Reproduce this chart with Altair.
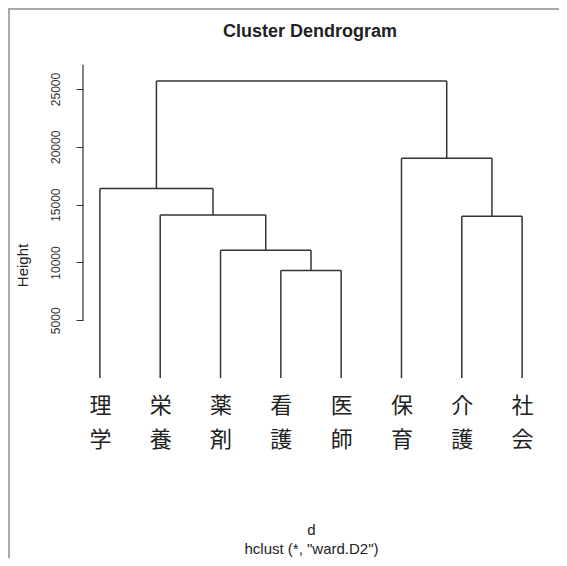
import json
import altair as alt
import pandas as pd

# ---- data ----
leaves = ["理学", "栄養", "薬剤", "看護", "医師", "保育", "介護", "社会"]
# R-style merge table: negative = leaf index (1-based), positive = earlier merge
merge_left = [-4, -3, -7, -2, -1, -6, 5]
merge_right = [-5, 1, -8, 2, 4, 3, 6]
merge_height = [9300, 11050, 14000, 14100, 16400, 19000, 25700]
y_ticks = [5000, 10000, 15000, 20000, 25000]
main_title = "Cluster Dendrogram"

# ---- build segments ----
mx, mh = [], []
rows = []


def pos(c):
    if c < 0:
        return float(-c), 0.0
    return mx[c - 1], mh[c - 1]


for a, b, h in zip(merge_left, merge_right, merge_height):
    xa, ha = pos(a)
    xb, hb = pos(b)
    rows.append(dict(x=xa, x2=xb, y=h, y2=h))
    rows.append(dict(x=xa, x2=xa, y=ha, y2=h))
    rows.append(dict(x=xb, x2=xb, y=hb, y2=h))
    mx.append((xa + xb) / 2)
    mh.append(h)

seg = pd.DataFrame(rows)

n = len(leaves)
xpad = (n - 1) * 0.04
ymax = max(merge_height)
ypad = ymax * 0.04
xscale = alt.Scale(domain=[1 - xpad, n + xpad], nice=False, zero=False)
yscale = alt.Scale(domain=[-ypad, ymax + ypad], nice=False, zero=False)

label_expr = "split(" + json.dumps(leaves, ensure_ascii=False) + "[datum.value - 1], '')"

ink = "#333333"

tree = alt.Chart(seg).mark_rule(color=ink, strokeWidth=1.5).encode(
    x=alt.X("x:Q", scale=xscale, axis=alt.Axis(
        values=list(range(1, n + 1)), labelExpr=label_expr,
        domain=False, ticks=False, grid=False,
        labelFont="Noto Sans CJK JP", labelFontSize=22, labelColor="#222222",
        labelLineHeight=34, labelBaseline="top", labelPadding=5,
        labelFlush=False, labelOverlap=False,
        title=["d", 'hclust (*, "ward.D2")'], titleFont="Liberation Sans",
        titleFontSize=15, titleFontWeight="normal", titleColor="#222222",
        titleLineHeight=19, titleBaseline="top", titleY=132,
    )),
    x2="x2:Q",
    y=alt.Y("y:Q", scale=yscale, axis=alt.Axis(
        values=y_ticks, format="d", domain=False, grid=False, tickSize=7, tickColor=ink,
        labelAngle=270, labelAlign="center", labelBaseline="bottom", labelPadding=14,
        labelFont="Liberation Sans", labelFontSize=12, labelColor="#333333",
        title="Height", titleFont="Liberation Sans", titleFontSize=15,
        titleFontWeight="normal", titleColor="#222222", titleAngle=270,
        titleAlign="center", titleBaseline="middle", titleX=-61, titleY=196,
    )),
    y2="y2:Q",
)

axis_line = alt.Chart(pd.DataFrame({"lo": [min(y_ticks)], "hi": [27100]})).mark_rule(
    color=ink, strokeWidth=1.2).encode(
    x=alt.value(0), y=alt.Y("lo:Q", scale=yscale), y2="hi:Q")

title_mark = alt.Chart(pd.DataFrame({"t": [main_title]})).mark_text(
    font="Liberation Sans", fontSize=18, fontWeight="bold", color="#222222",
    align="center", baseline="middle").encode(
    x=alt.value(227), y=alt.value(-37), text="t:N")

frame_top = alt.Chart(pd.DataFrame({"a": [0]})).mark_rule(color="#aaaaaa", strokeWidth=2).encode(
    x=alt.value(-75), x2=alt.value(600), y=alt.value(-60))
frame_left = alt.Chart(pd.DataFrame({"a": [0]})).mark_rule(color="#aaaaaa", strokeWidth=2).encode(
    x=alt.value(-74), y=alt.value(-61), y2=alt.value(600))

chart = alt.layer(frame_top, frame_left, axis_line, tree, title_mark).properties(
    width=456, height=321, background="white",
    autosize=alt.AutoSizeParams(type="none"),
    padding={"left": 75, "top": 61, "right": 20, "bottom": 168},
).configure_view(stroke="transparent", strokeWidth=0)

chart.save("out.html", embed_options={"renderer": "svg", "actions": False})
